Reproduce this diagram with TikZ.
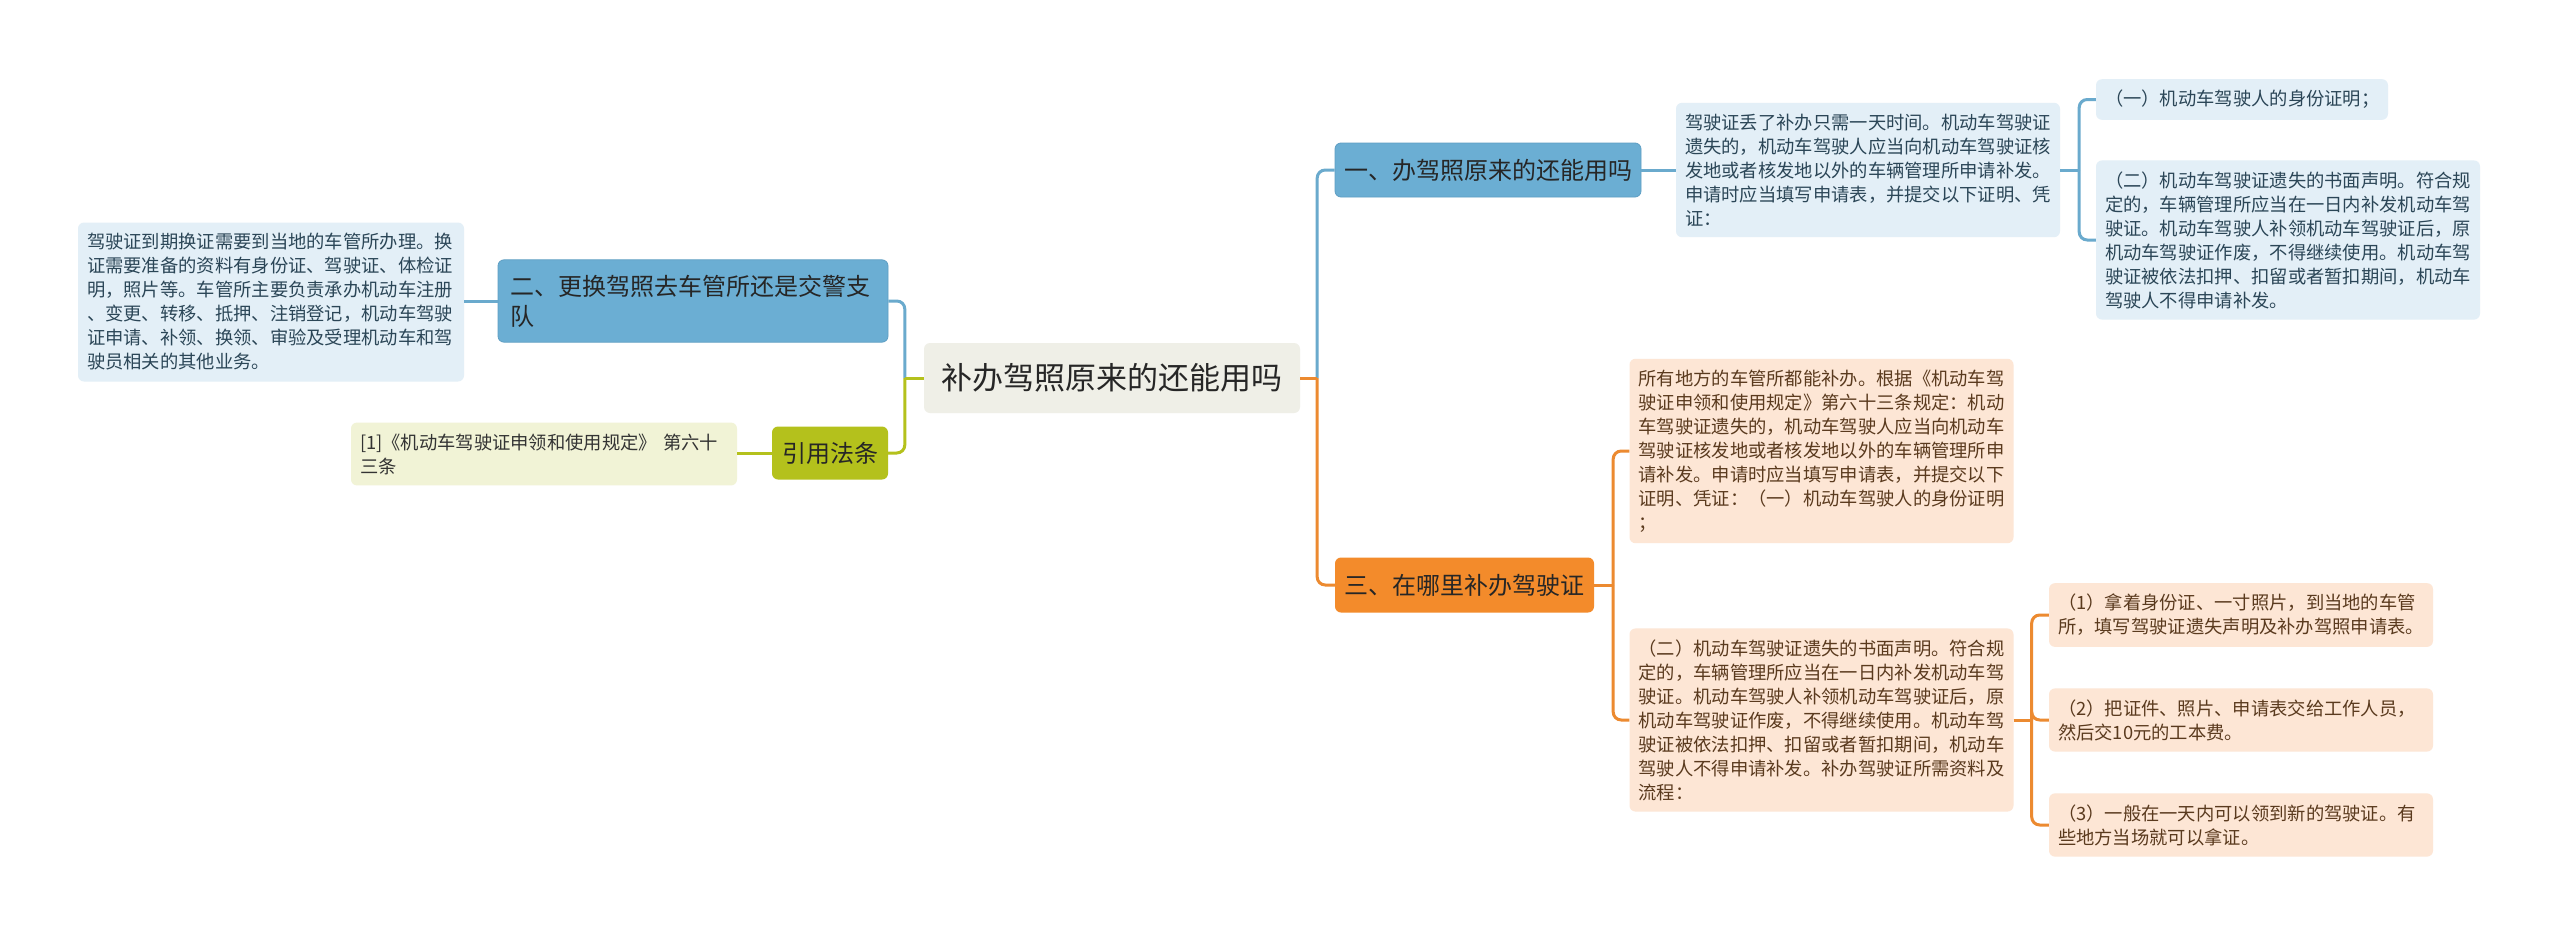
\documentclass[tikz,border=0pt]{standalone}
\usepackage{fontspec}
\setmainfont{Noto Sans CJK SC}
\definecolor{rootfill}{HTML}{EFEFE7}
\definecolor{bnode}{HTML}{6BAED3}
\definecolor{bborder}{HTML}{5E9EC3}
\definecolor{bleaf}{HTML}{E3EFF7}
\definecolor{bline}{HTML}{6AAACD}
\definecolor{btext}{HTML}{2B4657}
\definecolor{gnode}{HTML}{B4C11C}
\definecolor{gleaf}{HTML}{F1F3D6}
\definecolor{gline}{HTML}{B4C11C}
\definecolor{onode}{HTML}{F38B2B}
\definecolor{oleaf}{HTML}{FDE6D5}
\definecolor{oline}{HTML}{EC8A30}
\definecolor{otext}{HTML}{5A3A1E}
\begin{document}
\begin{tikzpicture}[x=1pt,y=-1pt,
  base/.style={rounded corners=6pt, inner sep=0pt},
  leafbox/.style={base, font=\fontsize{18.3pt}{24pt}\selectfont, align=left,
    text width=366pt, inner xsep=9pt, inner ysep=11pt},
  bleafbox/.style={leafbox, fill=bleaf, text=btext},
  gleafbox/.style={leafbox, fill=gleaf, text=black!80},
  oleafbox/.style={leafbox, fill=oleaf, text=otext},
  topic/.style={base, font=\fontsize{24pt}{30pt}\selectfont},
  btopic/.style={topic, fill=bnode, draw=bborder, line width=0.8pt, text=black!85},
  gtopic/.style={topic, fill=gnode, text=black!85},
  otopic/.style={topic, fill=onode, text=black!85},
  lnB/.style={draw=bline, line width=3pt, rounded corners=8pt},
  lnG/.style={draw=gline, line width=3pt, rounded corners=8pt},
  lnO/.style={draw=oline, line width=3pt, rounded corners=8pt}
]
\useasboundingbox[fill=white] (0,0) rectangle (2560,937);

% root
\node[base, fill=rootfill, minimum width=376pt, minimum height=70pt,
  font=\fontsize{31pt}{36pt}\selectfont, text=black!85] (root) at (1112,378) {补办驾照原来的还能用吗};

% left branches
\node[btopic, text width=366pt, align=left, inner xsep=12pt, inner ysep=15pt] (n2) at (693,301)
  {二、更换驾照去车管所还是交警支\\队};
\node[bleafbox, text width=368pt] (leaf2) at (271,302)
  {驾驶证到期换证需要到当地的车管所办理。换\\证需要准备的资料有身份证、驾驶证、体检证\\明，照片等。车管所主要负责承办机动车注册\\、变更、转移、抵押、注销登记，机动车驾驶\\证申请、补领、换领、审验及受理机动车和驾\\驶员相关的其他业务。};
\node[gtopic, minimum width=116pt, minimum height=53pt] (cite) at (830,453) {引用法条};
\node[gleafbox, text width=368pt] (citeleaf) at (544,454)
  {[1]《机动车驾驶证申领和使用规定》 第六十\\三条};

% right branch 1
\node[btopic, minimum width=306pt, minimum height=54pt] (n1) at (1488,170) {一、办驾照原来的还能用吗};
\node[bleafbox] (leaf1) at (1868,170)
  {驾驶证丢了补办只需一天时间。机动车驾驶证\\遗失的，机动车驾驶人应当向机动车驾驶证核\\发地或者核发地以外的车辆管理所申请补发。\\申请时应当填写申请表，并提交以下证明、凭\\证：};
\node[bleafbox, text width=274pt] (l1a) at (2242,99.5) {（一）机动车驾驶人的身份证明；};
\node[bleafbox] (l1b) at (2288,240)
  {（二）机动车驾驶证遗失的书面声明。符合规\\定的，车辆管理所应当在一日内补发机动车驾\\驶证。机动车驾驶人补领机动车驾驶证后，原\\机动车驾驶证作废，不得继续使用。机动车驾\\驶证被依法扣押、扣留或者暂扣期间，机动车\\驾驶人不得申请补发。};

% right branch 3
\node[otopic, minimum width=259pt, minimum height=55pt] (n3) at (1464.5,585) {三、在哪里补办驾驶证};
\node[oleafbox] (l3a) at (1821.5,451)
  {所有地方的车管所都能补办。根据《机动车驾\\驶证申领和使用规定》第六十三条规定：机动\\车驾驶证遗失的，机动车驾驶人应当向机动车\\驾驶证核发地或者核发地以外的车辆管理所申\\请补发。申请时应当填写申请表，并提交以下\\证明、凭证：（一）机动车驾驶人的身份证明\\；};
\node[oleafbox] (l3b) at (1821.5,720)
  {（二）机动车驾驶证遗失的书面声明。符合规\\定的，车辆管理所应当在一日内补发机动车驾\\驶证。机动车驾驶人补领机动车驾驶证后，原\\机动车驾驶证作废，不得继续使用。机动车驾\\驶证被依法扣押、扣留或者暂扣期间，机动车\\驾驶人不得申请补发。补办驾驶证所需资料及\\流程：};
\node[oleafbox] (s1) at (2241,615)
  {（1）拿着身份证、一寸照片，到当地的车管\\所，填写驾驶证遗失声明及补办驾照申请表。};
\node[oleafbox] (s2) at (2241,720)
  {（2）把证件、照片、申请表交给工作人员，\\然后交10元的工本费。};
\node[oleafbox] (s3) at (2241,825)
  {（3）一般在一天内可以领到新的驾驶证。有\\些地方当场就可以拿证。};

% connectors
\coordinate (jL) at ([xshift=-19pt]root.west);
\coordinate (jR) at ([xshift=17pt]root.east);
\draw[lnB] (jL) |- (n2.east);
\draw[lnG] (jL) |- (cite.east);
\draw[lnG] (root.west) -- (jL);
\draw[lnB] (jR) |- (n1.west);
\draw[lnO] (jR) |- (n3.west);
\draw[lnO] (root.east) -- (jR);

\draw[lnB] (n2.west) -- (n2.west -| leaf2.east);
\draw[lnG] (cite.west) -- (cite.west -| citeleaf.east);

\draw[lnB] (n1.east) -- (n1.east -| leaf1.west);
\coordinate (j1) at ([xshift=19pt]leaf1.east);
\draw[lnB] (leaf1.east) -- (j1);
\draw[lnB] (j1) |- (l1a.west);
\draw[lnB] (j1) |- (l1b.west);

\coordinate (j3) at ([xshift=19pt]n3.east);
\draw[lnO] (n3.east) -- (j3);
\draw[lnO] (j3) |- (l3a.west);
\draw[lnO] (j3) |- (l3b.west);

\coordinate (j3b) at ([xshift=18pt]l3b.east);
\draw[lnO] (l3b.east) -- (j3b);
\draw[lnO] (j3b) |- (s1.west);
\draw[lnO] (j3b) |- (s2.west);
\draw[lnO] (j3b) |- (s3.west);
\end{tikzpicture}
\end{document}
